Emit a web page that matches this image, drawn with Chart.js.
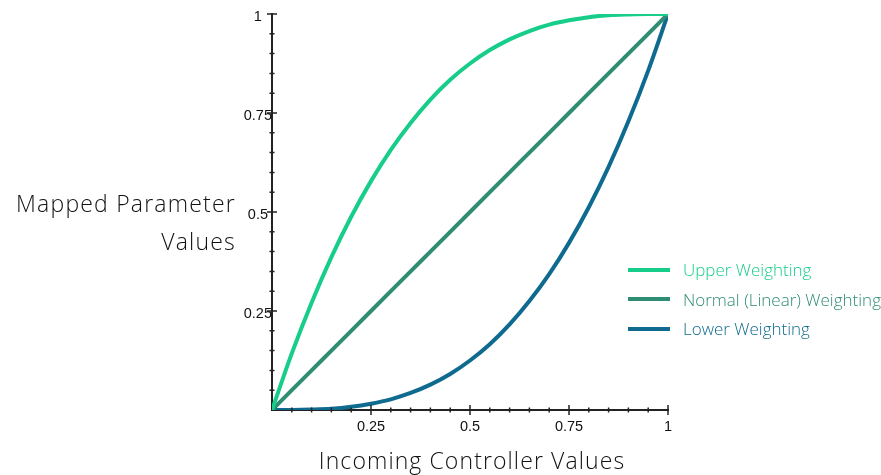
<!DOCTYPE html>
<html>
<head>
<meta charset="utf-8">
<script src="https://cdn.jsdelivr.net/npm/chart.js@4/dist/chart.umd.min.js"></script>
<style>
  html, body { margin: 0; padding: 0; background: #fff; }
  .wrap { position: relative; width: 881px; height: 475px; }
  canvas { position: absolute; left: 0; top: 0; }
  .ytitle {
    position: absolute; right: 645px; top: 184px;
    font: 300 23px "Open Sans", "Liberation Sans", sans-serif; letter-spacing: 1.2px; color: #111;
    text-align: right; line-height: 38px; white-space: nowrap;
  }
  .xtitle {
    position: absolute; left: 222px; width: 500px; top: 444px;
    font: 300 23px "Open Sans", "Liberation Sans", sans-serif; letter-spacing: 1.1px; color: #111;
    text-align: center; white-space: nowrap;
  }
  .legend { position: absolute; left: 628px; top: 255px; }
  .legend .row { display: flex; align-items: center; height: 29.5px; }
  .legend .swatch { width: 42px; height: 4px; margin-right: 13px; }
  .legend .txt { font: 300 17px "Open Sans", "Liberation Sans", sans-serif; white-space: nowrap; }
</style>
</head>
<body>
<div class="wrap">
  <canvas id="chart" width="881" height="475"></canvas>
  <div class="ytitle">Mapped Parameter<br>Values</div>
  <div class="xtitle">Incoming Controller Values</div>
  <div class="legend" id="legend"></div>
</div>
<script>
const xValues = [0, 0.05, 0.1, 0.15, 0.2, 0.25, 0.3, 0.35, 0.4, 0.45, 0.5,
                 0.55, 0.6, 0.65, 0.7, 0.75, 0.8, 0.85, 0.9, 0.95, 1];
const upperValues = [0, 0.143, 0.271, 0.386, 0.488, 0.578, 0.657, 0.725, 0.784, 0.834, 0.875,
                     0.909, 0.936, 0.957, 0.973, 0.984, 0.992, 0.997, 0.999, 1.0, 1];
const linearValues = [0, 0.05, 0.1, 0.15, 0.2, 0.25, 0.3, 0.35, 0.4, 0.45, 0.5,
                      0.55, 0.6, 0.65, 0.7, 0.75, 0.8, 0.85, 0.9, 0.95, 1];
const lowerValues = [0, 0.0001, 0.001, 0.003, 0.008, 0.016, 0.027, 0.043, 0.064, 0.091, 0.125,
                     0.166, 0.216, 0.275, 0.343, 0.422, 0.512, 0.614, 0.729, 0.857, 1];
const seriesLabels = ['Upper Weighting', 'Normal (Linear) Weighting', 'Lower Weighting'];
const majorTicks = [0.25, 0.5, 0.75, 1];

const COLORS = ['#17cd8a', '#2e8d72', '#0e6a8e'];
const AXIS = '#222';

const toPoints = (ys) => xValues.map((x, i) => ({ x, y: ys[i] }));
const isMajor = (v) => majorTicks.some(m => Math.abs(m - v) < 1e-6);

// cross ticks like the original: long on 0.25 steps, short on 0.05 steps
const crossTicks = {
  id: 'crossTicks',
  afterDatasetsDraw(chart){
    const { ctx, scales: { x, y } } = chart;
    ctx.save();
    ctx.strokeStyle = AXIS;
    ctx.lineWidth = 1.5;
    ctx.beginPath();
    x.ticks.forEach(t => {
      if (t.value === 0) return;
      const px = x.getPixelForValue(t.value);
      const h = isMajor(t.value) ? 5 : 2.5;
      ctx.moveTo(px, y.bottom - h);
      ctx.lineTo(px, y.bottom + h);
    });
    y.ticks.forEach(t => {
      if (t.value === 0) return;
      const py = y.getPixelForValue(t.value);
      const w = isMajor(t.value) ? 5 : 2.5;
      ctx.moveTo(x.left - w, py);
      ctx.lineTo(x.left + w, py);
    });
    ctx.stroke();
    ctx.restore();
  }
};

const tickFont = { family: '"Liberation Sans", Arial, sans-serif', size: 14.5 };
const tickLabel = (v) => isMajor(v) ? String(v) : '';

new Chart(document.getElementById('chart'), {
  type: 'line',
  data: {
    datasets: [upperValues, linearValues, lowerValues].map((ys, i) => ({
      label: seriesLabels[i],
      data: toPoints(ys),
      borderColor: COLORS[i],
      borderWidth: 4,
      pointRadius: 0,
      fill: false,
      cubicInterpolationMode: 'monotone'
    }))
  },
  options: {
    responsive: false,
    animation: false,
    layout: { padding: { left: 232, top: 14, right: 213, bottom: 0 } },
    plugins: { legend: { display: false }, tooltip: { enabled: false } },
    scales: {
      x: {
        type: 'linear', min: 0, max: 1,
        grid: { display: false, drawTicks: false },
        border: { display: true, color: AXIS, width: 2 },
        ticks: { stepSize: 0.05, autoSkip: false, maxRotation: 0, padding: 8,
                 color: '#111', font: tickFont, callback: tickLabel },
        afterFit(s){ s.height = 65; }
      },
      y: {
        type: 'linear', min: 0, max: 1,
        grid: { display: false, drawTicks: false },
        border: { display: true, color: AXIS, width: 2 },
        ticks: { stepSize: 0.05, autoSkip: false, padding: 0, crossAlign: 'center',
                 labelOffset: 3, color: '#111', font: tickFont, callback: tickLabel },
        afterFit(s){ s.width = 40; }
      }
    }
  },
  plugins: [crossTicks]
});

const legendEl = document.getElementById('legend');
seriesLabels.forEach((lab, i) => {
  const row = document.createElement('div');
  row.className = 'row';
  row.innerHTML = `<div class="swatch" style="background:${COLORS[i]}"></div><div class="txt" style="color:${COLORS[i]}">${lab}</div>`;
  legendEl.appendChild(row);
});
</script>
</body>
</html>
